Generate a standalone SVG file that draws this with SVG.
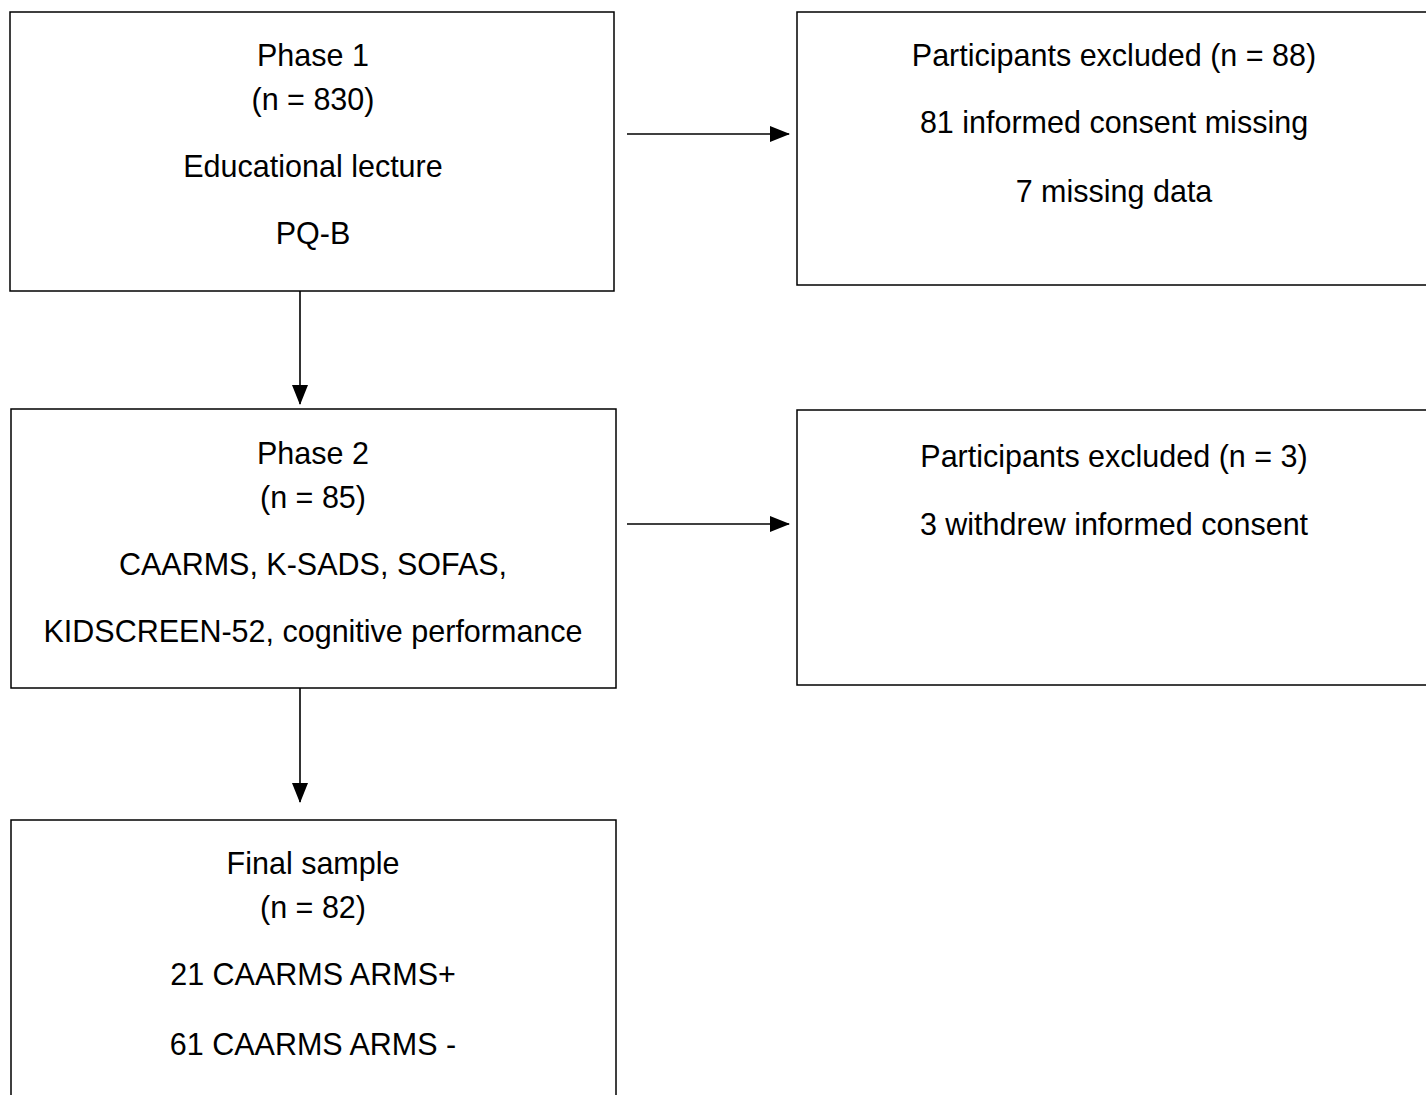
<svg xmlns="http://www.w3.org/2000/svg" width="1426" height="1095" viewBox="0 0 1426 1095">
<style>
.box{fill:#fff;stroke:#000;stroke-width:1.5}
.t{font-family:"Liberation Sans",Arial,sans-serif;font-size:30.5px;fill:#000;text-anchor:middle}
.c{stroke:#000;stroke-width:1.6;fill:none}
</style>
<defs>
<marker id="ah" markerWidth="20" markerHeight="16" refX="19" refY="8" orient="auto" markerUnits="userSpaceOnUse">
<path d="M0,0 L20,8 L0,16 Z" fill="#000"/>
</marker>
</defs>
<rect width="1426" height="1095" fill="#fff"/>
<g id="phase1">
<rect class="box" x="10" y="12" width="604" height="279"/>
<text class="t" x="313" y="66">Phase 1</text>
<text class="t" x="313" y="110">(n = 830)</text>
<text class="t" x="313" y="177">Educational lecture</text>
<text class="t" x="313" y="244">PQ-B</text>
</g>
<g id="excluded1">
<rect class="box" x="797" y="12" width="640" height="273"/>
<text class="t" x="1114" y="66">Participants excluded (n = 88)</text>
<text class="t" x="1114" y="133">81 informed consent missing</text>
<text class="t" x="1114" y="202">7 missing data</text>
</g>
<g id="phase2">
<rect class="box" x="11" y="409" width="605" height="279"/>
<text class="t" x="313" y="464">Phase 2</text>
<text class="t" x="313" y="508">(n = 85)</text>
<text class="t" x="313" y="575">CAARMS, K-SADS, SOFAS,</text>
<text class="t" x="313" y="642">KIDSCREEN-52, cognitive performance</text>
</g>
<g id="excluded2">
<rect class="box" x="797" y="410" width="640" height="275"/>
<text class="t" x="1114" y="467">Participants excluded (n = 3)</text>
<text class="t" x="1114" y="535">3 withdrew informed consent</text>
</g>
<g id="final">
<rect class="box" x="11" y="820" width="605" height="290"/>
<text class="t" x="313" y="874">Final sample</text>
<text class="t" x="313" y="918">(n = 82)</text>
<text class="t" x="313" y="985">21 CAARMS ARMS+</text>
<text class="t" x="313" y="1055">61 CAARMS ARMS -</text>
</g>
<g id="connectors">
<line class="c" x1="627" y1="134" x2="789" y2="134" marker-end="url(#ah)"/>
<line class="c" x1="627" y1="524" x2="789" y2="524" marker-end="url(#ah)"/>
<line class="c" x1="300" y1="291" x2="300" y2="404" marker-end="url(#ah)"/>
<line class="c" x1="300" y1="688" x2="300" y2="802" marker-end="url(#ah)"/>
</g>
</svg>
